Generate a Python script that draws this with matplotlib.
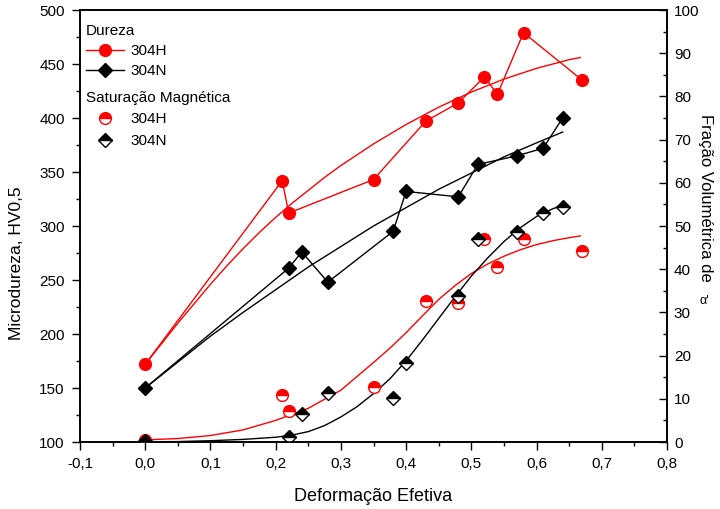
import matplotlib
matplotlib.use("Agg")
import matplotlib.pyplot as plt
from matplotlib.lines import Line2D
from matplotlib.ticker import MultipleLocator

plt.rcParams['font.family'] = ['Liberation Sans', 'DejaVu Sans']

# Dureza (left axis)
x_h = [0.0, 0.21, 0.22, 0.35, 0.43, 0.48, 0.52, 0.54, 0.58, 0.67]
hv_304H = [172, 342, 312, 343, 397, 414, 438, 422, 479, 435]
x_n = [0.0, 0.22, 0.24, 0.28, 0.38, 0.40, 0.48, 0.51, 0.57, 0.61, 0.64]
hv_304N = [150, 261, 276, 248, 295, 332, 327, 357, 365, 372, 400]

# Saturacao magnetica (right axis)
sat_304H = [0.5, 10.9, 7.2, 12.7, 32.7, 32.2, 47.1, 40.5, 47.1, 44.2]
sat_304N = [0.3, 1.2, 6.5, 11.3, 10.2, 18.3, 33.9, 47.0, 48.7, 53.0, 54.3]

# fitted curves
fit_hv_H_x = [0, 0.025, 0.05, 0.075, 0.1, 0.125, 0.15, 0.175, 0.2, 0.225, 0.25,
              0.275, 0.3, 0.325, 0.35, 0.375, 0.4, 0.425, 0.45, 0.475, 0.5,
              0.525, 0.55, 0.575, 0.6, 0.625, 0.65, 0.667]
fit_hv_H_y = [172, 191, 210, 228, 246, 263, 279, 294, 308, 321, 333,
              345, 356, 366, 376, 385, 394, 402, 410, 417, 424,
              430, 436, 441, 446, 450, 454, 456]
fit_hv_N_x = [0, 0.05, 0.1, 0.15, 0.2, 0.25, 0.3, 0.35, 0.4, 0.45, 0.5, 0.55, 0.6, 0.64]
fit_hv_N_y = [150, 174, 198, 220, 241, 262, 281, 300, 317, 334, 349, 364, 377, 387]
fit_sat_H_x = [0, 0.05, 0.1, 0.15, 0.2, 0.25, 0.3, 0.325, 0.35, 0.375, 0.4, 0.425,
               0.45, 0.475, 0.5, 0.525, 0.55, 0.575, 0.6, 0.625, 0.65, 0.667]
fit_sat_H_y = [0.5, 0.8, 1.5, 2.8, 5.0, 7.8, 12.0, 15.2, 18.4, 21.7, 25.3, 29.2,
               33.0, 36.2, 39.0, 41.2, 43.0, 44.5, 45.7, 46.6, 47.3, 47.7]
fit_sat_N_x = [0, 0.05, 0.1, 0.15, 0.2, 0.225, 0.25, 0.275, 0.3, 0.325, 0.35, 0.375,
               0.4, 0.425, 0.45, 0.475, 0.5, 0.525, 0.55, 0.575, 0.6, 0.625, 0.64]
fit_sat_N_y = [0, 0.1, 0.3, 0.6, 1.1, 1.6, 2.4, 3.8, 5.8, 8.2, 11.2, 14.6,
               18.8, 23.6, 28.6, 33.6, 38.4, 42.6, 46.4, 49.6, 52.2, 54.0, 54.8]

xticks = [-0.1, 0.0, 0.1, 0.2, 0.3, 0.4, 0.5, 0.6, 0.7, 0.8]
xticklabels = ['-0,1', '0,0', '0,1', '0,2', '0,3', '0,4', '0,5', '0,6', '0,7', '0,8']

fig = plt.figure(figsize=(7.2, 5.09), dpi=100)
ax = fig.add_axes([80 / 720, 1 - 442 / 509, 587 / 720, 432 / 509])
ax2 = ax.twinx()

# right axis curves and markers
ax2.plot(fit_sat_H_x, fit_sat_H_y, color='red', lw=1)
ax2.plot(fit_sat_N_x, fit_sat_N_y, color='black', lw=1)
ax2.plot(x_h, sat_304H, 'o', ms=8.5, color='red', mfc='red', mfcalt='white',
         mec='red', fillstyle='top', mew=1)
ax2.plot(x_n, sat_304N, 'D', ms=6.8, color='black', mfc='black', mfcalt='white',
         mec='black', fillstyle='top', mew=1)

# left axis
ax.plot(fit_hv_H_x, fit_hv_H_y, color='red', lw=1)
ax.plot(fit_hv_N_x, fit_hv_N_y, color='black', lw=1)
ax.plot(x_h, hv_304H, '-o', color='red', lw=1, ms=8.5)
ax.plot(x_n, hv_304N, '-D', color='black', lw=1, ms=6.8)

ax.set_xlim(-0.1, 0.8)
ax.set_ylim(100, 500)
ax2.set_ylim(0, 100)
ax.set_xticks(xticks)
ax.set_xticklabels(xticklabels)
ax.xaxis.set_minor_locator(MultipleLocator(0.05))
ax.yaxis.set_major_locator(MultipleLocator(50))
ax.yaxis.set_minor_locator(MultipleLocator(25))
ax2.yaxis.set_major_locator(MultipleLocator(10))
ax2.yaxis.set_minor_locator(MultipleLocator(5))

ax.tick_params(axis='both', which='major', direction='out', length=6, width=1,
               labelsize=11, pad=5)
ax.tick_params(axis='both', which='minor', direction='out', length=3, width=1)
ax.tick_params(axis='x', top=False, which='both')
ax2.tick_params(axis='y', which='major', direction='in', length=6, width=1,
                labelsize=11, pad=5)
ax2.tick_params(axis='y', which='minor', direction='in', length=3, width=1)
for a in (ax, ax2):
    for s in a.spines.values():
        s.set_linewidth(1.2)

ax.set_xlabel('Deformação Efetiva', fontsize=13, labelpad=12)
ax.set_ylabel('Microdureza, HV0,5', fontsize=12.5)
ax.yaxis.set_label_coords(-0.095, 0.414)
fig.text(706 / 720, 1 - 198 / 509, 'Fração Volumétrica de', rotation=-90,
         fontsize=12, ha='center', va='center')
fig.text(704 / 720, 1 - 301 / 509, "α'", fontsize=9, ha='center', va='center')

# legends
h1 = [Line2D([], [], color='red', marker='o', ms=8.5, lw=1),
      Line2D([], [], color='black', marker='D', ms=6.8, lw=1)]
leg1 = ax.legend(h1, ['304H', '304N'], title='Dureza', alignment='left',
                 loc='upper left', bbox_to_anchor=(-0.013, 1), borderaxespad=0.5,
                 frameon=False, fontsize=11, title_fontsize=11,
                 handlelength=2.5, labelspacing=0.4, handletextpad=0.4)
ax.add_artist(leg1)
h2 = [Line2D([], [], ls='none', marker='o', ms=8.5, color='red', mfc='red',
             mfcalt='white', mec='red', fillstyle='top'),
      Line2D([], [], ls='none', marker='D', ms=6.8, color='black', mfc='black',
             mfcalt='white', mec='black', fillstyle='top')]
ax.legend(h2, ['304H', '304N'], title='Saturação Magnética', alignment='left',
          loc='upper left', bbox_to_anchor=(-0.013, 0.845), borderaxespad=0.5,
          frameon=False, fontsize=11, title_fontsize=11,
          handlelength=2.5, labelspacing=0.5, handletextpad=0.4)

fig.savefig('out.png', dpi=100)
